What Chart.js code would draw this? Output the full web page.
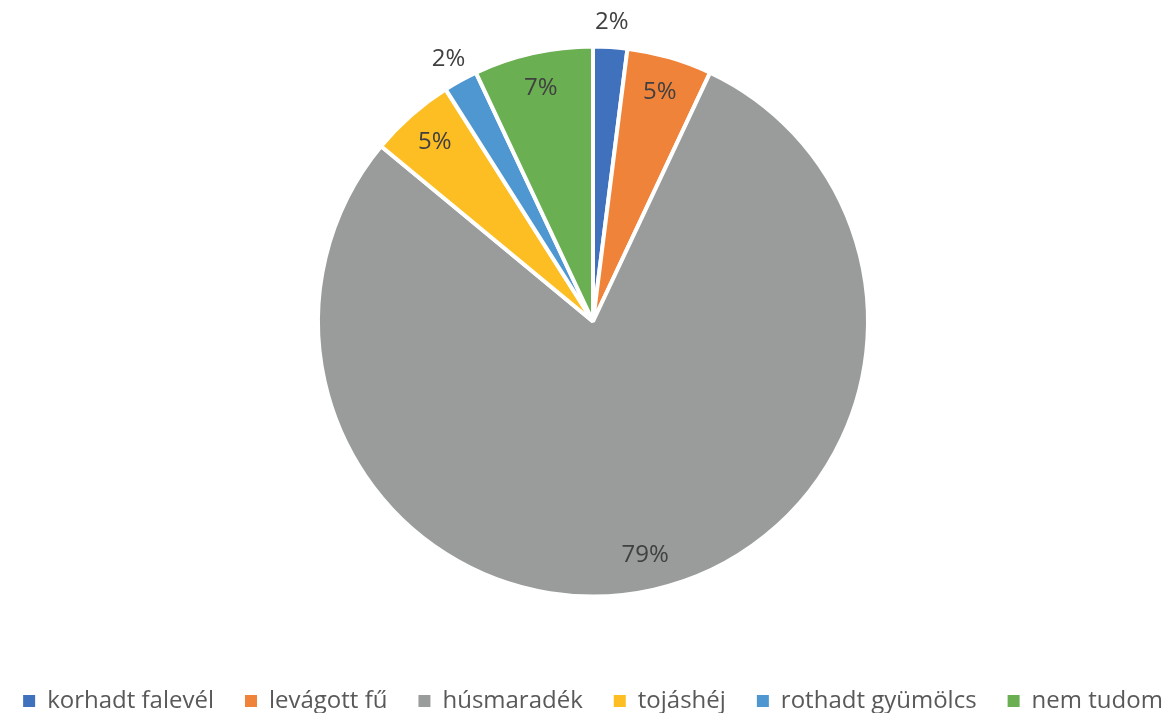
<!DOCTYPE html>
<html>
<head>
<meta charset="utf-8">
<script src="https://cdn.jsdelivr.net/npm/chart.js@4"></script>
<style>
  html, body { margin: 0; padding: 0; background: #fff; overflow: hidden; width: 1174px; height: 713px; }
  #wrap { position: absolute; left: -27px; top: -20px; width: 1240px; height: 743px; }
</style>
</head>
<body>
<div id="wrap"><canvas id="pie"></canvas></div>
<script>
// categories and shares (%)
const labels = ['korhadt falevél', 'levágott fű', 'húsmaradék', 'tojáshéj', 'rothadt gyümölcs', 'nem tudom'];
const values = [2, 5, 79, 5, 2, 7];
const colors = ['#3F71BD', '#F0833A', '#9A9C9C', '#FDBE23', '#4F97D1', '#6AAF52'];

// percent labels: small slices outside, the rest inside
const pctLabels = {
    id: 'pctLabels',
    afterDatasetsDraw(chart) {
        const ctx = chart.ctx;
        const meta = chart.getDatasetMeta(0);
        ctx.save();
        ctx.font = '24px "Open Sans"';
        ctx.fillStyle = '#404040';
        ctx.textAlign = 'center';
        ctx.textBaseline = 'middle';
        meta.data.forEach((arc, i) => {
            const mid = (arc.startAngle + arc.endAngle) / 2;
            const k = values[i] < 3 ? 1.09 : 0.87;
            const r = arc.outerRadius * k;
            ctx.fillText(values[i] + '%', arc.x + Math.cos(mid) * r, arc.y + Math.sin(mid) * r);
        });
        ctx.restore();
    }
};

const defaultLabels = Chart.overrides.pie.plugins.legend.labels.generateLabels;

new Chart(document.getElementById('pie'), {
    type: 'pie',
    data: {
        labels: labels,
        datasets: [{
            data: values,
            backgroundColor: colors,
            borderColor: '#fff',
            borderWidth: 4,
            radius: 275
        }]
    },
    options: {
        responsive: true,
        maintainAspectRatio: false,
        animation: false,
        layout: { padding: { top: 5 } },
        plugins: {
            tooltip: { enabled: false },
            legend: {
                position: 'bottom',
                labels: {
                    boxWidth: 12,
                    boxHeight: 12,
                    padding: 31,
                    color: '#595959',
                    font: { family: '"Open Sans"', size: 24 },
                    // no white outline on the legend squares
                    generateLabels: (chart) => defaultLabels(chart).map(l => ({ ...l, lineWidth: 0 }))
                }
            }
        }
    },
    plugins: [pctLabels]
});
</script>
</body>
</html>
